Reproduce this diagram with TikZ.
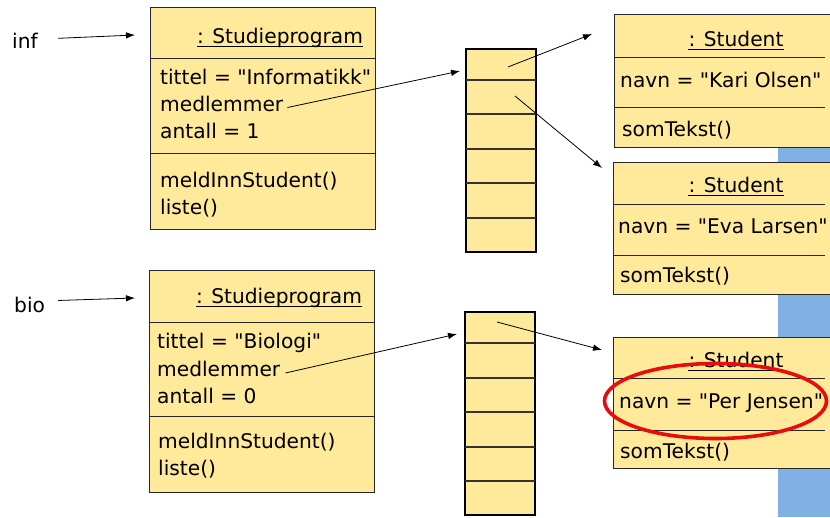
\documentclass[tikz,border=0pt]{standalone}
\usepackage{fontspec}
\setmainfont{DejaVu Sans}[Ligatures=TeXOff]
\usetikzlibrary{arrows.meta}
\definecolor{gul}{RGB}{255,233,154}
\definecolor{bakblaa}{RGB}{128,176,228}
\definecolor{rod}{RGB}{232,12,12}

\begin{document}
\begin{tikzpicture}[x=1pt, y=-1pt, font=\fontsize{20.2}{24}\selectfont,
    objekt/.style={draw=black!85, fill=gul, line width=1pt, inner sep=0pt, outer sep=0pt, anchor=north west},
    tabell/.style={draw=black, fill=gul, line width=2.6pt, inner sep=0pt, outer sep=0pt, anchor=north west, minimum width=70pt},
    skille/.style={draw=black!85, line width=1pt},
    celle/.style={draw=black!80, line width=1.1pt},
    felt/.style={anchor=base west, inner sep=0pt},
    hode/.style={anchor=base, inner sep=0pt},
    understrek/.style={line width=1pt},
    peker/.style={-{Latex[length=9pt,width=6.5pt]}, line width=0.8pt},
    ring/.style={draw=rod, line width=3.6pt}]
\useasboundingbox (0,0) rectangle (830,517);
\clip (0,0) rectangle (830,517);

% bakgrunn
\fill[bakblaa] (778,147) rectangle (830,517);

% studieprogram-objekter
\node[objekt, minimum width=225pt, minimum height=222pt] (sp1) at (150,7) {};
\node[objekt, minimum width=225pt, minimum height=222pt] (sp2) at (149,270) {};
\foreach \y in {58,153} \draw[skille] (sp1.west |- 0,\y) -- (sp1.east |- 0,\y);
\foreach \y in {322,416} \draw[skille] (sp2.west |- 0,\y) -- (sp2.east |- 0,\y);

% tabeller
\node[tabell, minimum height=203pt] (tab1) at (466,49) {};
\node[tabell, minimum height=203pt] (tab2) at (465,312) {};
\foreach \y in {80,114,149,183,218} \draw[celle] (tab1.west |- 0,\y) -- (tab1.east |- 0,\y);
\foreach \y in {343,378,412,447,481} \draw[celle] (tab2.west |- 0,\y) -- (tab2.east |- 0,\y);

% student-objekter
\node[objekt, minimum width=226pt, minimum height=133pt] (st1) at (614,14) {};
\node[objekt, minimum width=227pt, minimum height=132pt] (st2) at (613,162) {};
\node[objekt, minimum width=227pt, minimum height=131pt] (st3) at (613,337) {};
\foreach \y in {57,107} \draw[skille] (st1.west |- 0,\y) -- (825,\y);
\foreach \y in {204,255} \draw[skille] (st2.west |- 0,\y) -- (825,\y);
\foreach \y in {378,430} \draw[skille] (st3.west |- 0,\y) -- (825,\y);

% tekster
\node[felt] (inf) at (12,48) {inf};
\node[felt] (bio) at (14,312) {bio};

\node[hode] (h1) at (280,43) {: Studieprogram};
\node[felt] (ti1) at (160,84.5) {tittel = "Informatikk"};
\node[felt] (m1) at (160,111.5) {medlemmer};
\node[felt] (an1) at (160,138.5) {antall = 1};
\node[felt] (me1) at (160,187) {meldInnStudent()};
\node[felt] (li1) at (160,214) {liste()};

\node[hode] (h2) at (279,303) {: Studieprogram};
\node[felt] (ti2) at (157,348) {tittel = "Biologi"};
\node[felt] (m2) at (157,376) {medlemmer};
\node[felt] (an2) at (157,403) {antall = 0};
\node[felt] (me2) at (158,448) {meldInnStudent()};
\node[felt] (li2) at (158,475) {liste()};

\node[hode] (s1) at (736,46) {: Student};
\node[felt] (n1) at (620,87) {navn = "Kari Olsen"};
\node[felt] (o1) at (622,136) {somTekst()};

\node[hode] (s2) at (736,192) {: Student};
\node[felt] (n2) at (618,233) {navn = "Eva Larsen"};
\node[felt] (o2) at (620,282) {somTekst()};

\node[hode] (s3) at (736,367) {: Student};
\node[felt] (n3) at (619,408) {navn = "Per Jensen"};
\node[felt] (o3) at (620,458) {somTekst()};

\foreach \h in {h1,h2,s1,s2,s3}
    \draw[understrek] ([yshift=-3pt]\h.base west) -- ([yshift=-3pt]\h.base east);

% pekere
\coordinate (c1) at (508,67);
\coordinate (c2) at (515,96);
\coordinate (c3) at (497,322);
\draw[peker] ([xshift=20pt,yshift=2pt]inf.east) -- ([xshift=-15pt,yshift=-28pt]sp1.north west);
\draw[peker] ([xshift=13pt,yshift=4pt]bio.east) -- ([xshift=-14pt,yshift=-28pt]sp2.north west);
\draw[peker] ([xshift=4pt,yshift=4pt]m1.base east) -- ([xshift=-6pt,yshift=-22pt]tab1.north west);
\draw[peker] ([xshift=5pt,yshift=3pt]m2.base east) -- ([xshift=-8pt,yshift=-22pt]tab2.north west);
\draw[peker] (c1) -- ([xshift=-22pt,yshift=-20pt]st1.north west);
\draw[peker] (c2) -- ([xshift=-11pt,yshift=-6pt]st2.north west);
\draw[peker] (c3) -- ([xshift=-11pt,yshift=-13pt]st3.north west);

% markering
\draw[ring] (715.5,401) ellipse [x radius=111pt, y radius=37.5pt];
\end{tikzpicture}
\end{document}
